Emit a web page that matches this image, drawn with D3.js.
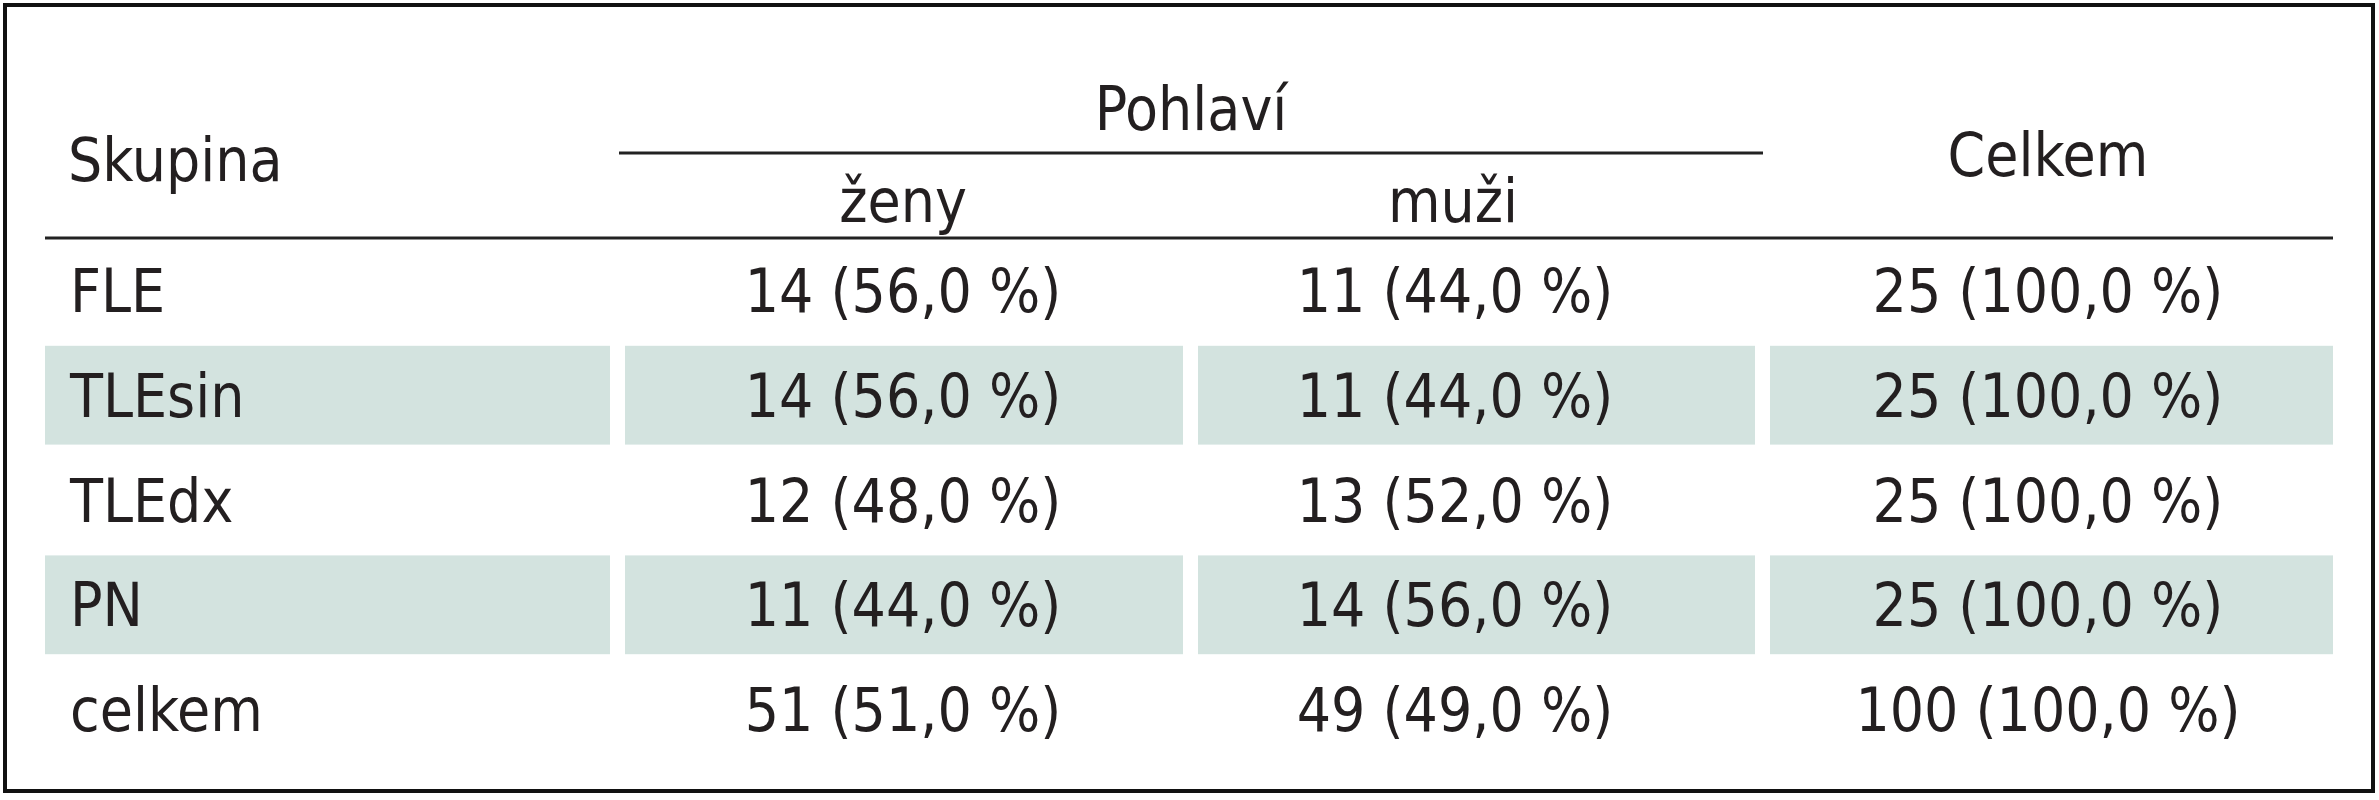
<!DOCTYPE html><html><head><meta charset="utf-8"><script src="https://cdn.jsdelivr.net/npm/d3@7"></script>
<style>body{margin:0;background:#fff}</style></head><body><svg id="c" width="2379" height="800"></svg>
<script>
const groups=["FLE","TLEsin","TLEdx","PN","celkem"];
const zeny=["14 (56,0 %)","14 (56,0 %)","12 (48,0 %)","11 (44,0 %)","51 (51,0 %)"];
const muzi=["11 (44,0 %)","11 (44,0 %)","13 (52,0 %)","14 (56,0 %)","49 (49,0 %)"];
const celkem=["25 (100,0 %)","25 (100,0 %)","25 (100,0 %)","25 (100,0 %)","100 (100,0 %)"];
const shaded=[false,true,false,true,false];
const svg=d3.select("#c");
const font="'Liberation Sans Narrow','DejaVu Sans Condensed',sans-serif";
const fs=60, col="#231f20";
svg.append("rect").attr("x",5).attr("y",5).attr("width",2368).attr("height",786).attr("fill","none").attr("stroke","#111").attr("stroke-width",4);
const cols=[[45,610],[625,1183],[1198,1755],[1770,2333]];
const y=d3.scaleBand().domain(d3.range(groups.length)).range([238,762]).paddingInner(0.0);
groups.forEach((g,i)=>{
  const y0=y(i), cy=y0+y.bandwidth()/2;
  if(shaded[i]) cols.forEach(c=>svg.append("rect").attr("x",c[0]).attr("y",y0+3).attr("width",c[1]-c[0]).attr("height",y.bandwidth()-6).attr("fill","#d3e3df"));
  const t=(x,s,a)=>svg.append("text").attr("x",x).attr("y",cy).attr("dy","0.36em").attr("text-anchor",a).attr("font-family",font).attr("font-size",fs).attr("fill",col).text(s);
  t(70,g,"start"); t(903,zeny[i],"middle"); t(1455,muzi[i],"middle"); t(2048,celkem[i],"middle");
});
const h=(x,yy,s)=>svg.append("text").attr("x",x).attr("y",yy).attr("text-anchor","middle").attr("font-family",font).attr("font-size",fs).attr("fill",col).text(s);
svg.append("text").attr("x",68).attr("y",181).attr("font-family",font).attr("font-size",fs).attr("fill",col).text("Skupina");
h(1191,130,"Pohlaví"); h(903,222,"ženy"); h(1453,222,"muži"); h(2048,176,"Celkem");
svg.append("line").attr("x1",619).attr("x2",1763).attr("y1",153).attr("y2",153).attr("stroke","#222").attr("stroke-width",3);
svg.append("line").attr("x1",45).attr("x2",2333).attr("y1",238).attr("y2",238).attr("stroke","#222").attr("stroke-width",3);
</script></body></html>
